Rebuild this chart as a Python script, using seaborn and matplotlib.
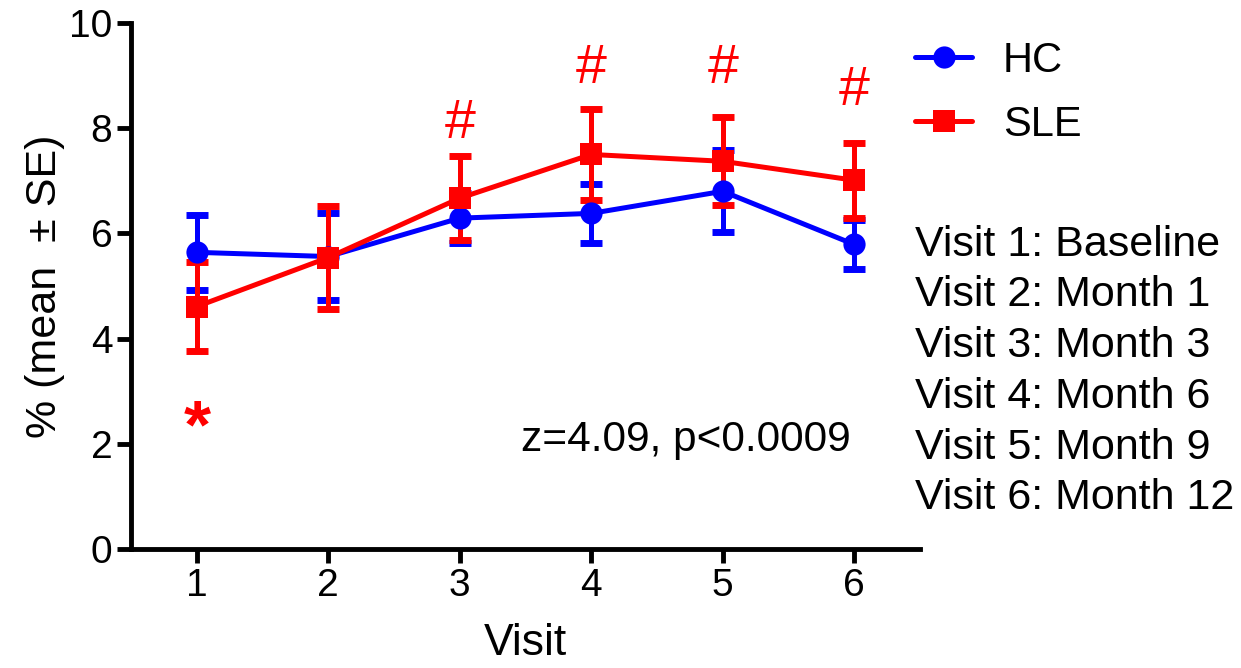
import matplotlib
matplotlib.use("Agg")
import matplotlib.pyplot as plt
import seaborn as sns
import pandas as pd
import numpy as np

# ==============================================================================
# DATA
# ==============================================================================
visits = [1, 2, 3, 4, 5, 6]
hc_mean = [5.64, 5.56, 6.29, 6.38, 6.80, 5.79]
hc_se = [0.71, 0.83, 0.48, 0.56, 0.78, 0.46]
sle_mean = [4.61, 5.54, 6.67, 7.50, 7.37, 7.01]
sle_se = [0.84, 0.98, 0.80, 0.87, 0.84, 0.71]

star_visits = [1]
star_y = [1.93]
hash_visits = [3, 4, 5, 6]
hash_y = [7.81, 8.86, 8.86, 8.44]

visit_labels = ["Visit 1: Baseline", "Visit 2: Month 1", "Visit 3: Month 3",
                "Visit 4: Month 6", "Visit 5: Month 9", "Visit 6: Month 12"]

# ==============================================================================
# PLOT
# ==============================================================================
sns.set_theme(style="ticks")
plt.rcParams["font.family"] = ["Liberation Sans", "DejaVu Sans"]
for key in ["text.color", "axes.labelcolor", "xtick.color", "ytick.color",
            "axes.edgecolor"]:
    plt.rcParams[key] = "black"

df = pd.DataFrame({
    "Visit": visits * 2,
    "Value": hc_mean + sle_mean,
    "SE": hc_se + sle_se,
    "Group": ["HC"] * 6 + ["SLE"] * 6,
})
palette = {"HC": "#0000ff", "SLE": "#ff0000"}

fig = plt.figure(figsize=(12.41, 6.68), dpi=100)
ax = fig.add_axes([0.1056, 0.178, 0.6357, 0.7877])

for grp in ["HC", "SLE"]:
    sub = df[df["Group"] == grp]
    ax.errorbar(sub["Visit"], sub["Value"], yerr=sub["SE"], fmt="none",
                ecolor=palette[grp], elinewidth=3.6, capsize=8, capthick=5,
                zorder=2 if grp == "HC" else 4)

sns.lineplot(data=df, x="Visit", y="Value", hue="Group", style="Group",
             palette=palette, markers={"HC": "o", "SLE": "s"}, dashes=False,
             markersize=16, markeredgewidth=0, linewidth=3.6, ax=ax,
             legend=True, zorder=5)

# annotations
for x, y in zip(star_visits, star_y):
    ax.text(x, y, "*", color="red", fontsize=50, fontweight="bold",
            ha="center", va="baseline")
for x, y in zip(hash_visits, hash_y):
    ax.text(x, y, "#", color="red", fontsize=40, ha="center", va="baseline")
ax.text(4.72, 1.87, "z=4.09, p<0.0009", fontsize=30.5, ha="center", va="baseline")

for i, lab in enumerate(visit_labels):
    fig.text(0.7373, 0.6175 - i * 0.076, lab, fontsize=31, ha="left", va="baseline")

ax.set_xlim(0.5, 6.5)
ax.set_ylim(0, 10)
ax.set_xticks(visits)
ax.set_yticks([0, 2, 4, 6, 8, 10])
ax.set_xlabel("Visit", fontsize=32, labelpad=14)
ax.set_ylabel("% (mean  \u00b1 SE)", fontsize=31, labelpad=3)
ax.tick_params(axis="both", labelsize=28, width=3.5, length=10, color="black")
sns.despine(ax=ax)
for side in ["left", "bottom"]:
    ax.spines[side].set_linewidth(3.5)

ax.legend(title=None, frameon=False, fontsize=30, loc="center left",
          bbox_to_anchor=(0.7373, 0.861), bbox_transform=fig.transFigure,
          handlelength=1.37, handletextpad=0.74, labelspacing=0.58,
          borderpad=0, borderaxespad=0)

fig.savefig("out.png", dpi=100)
